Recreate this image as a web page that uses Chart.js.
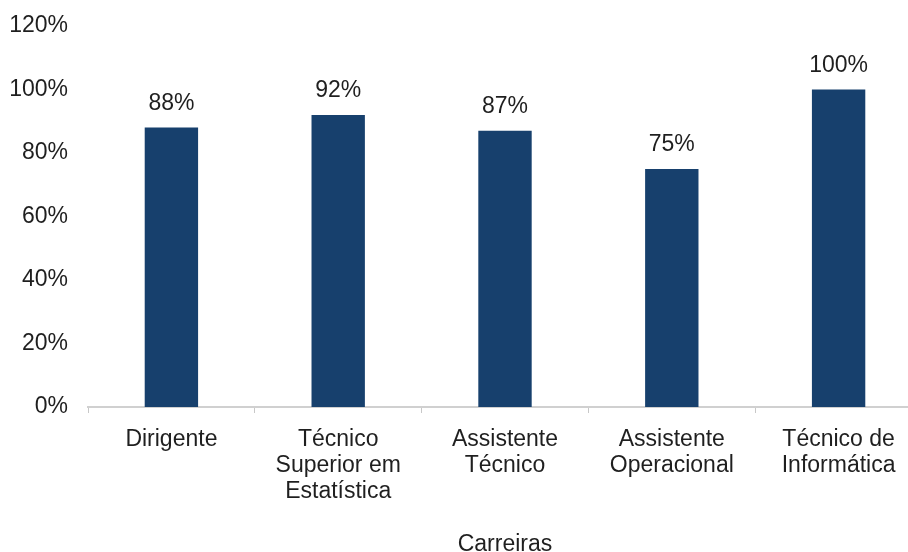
<!DOCTYPE html>
<html>
<head>
<meta charset="utf-8">
<script src="https://cdn.jsdelivr.net/npm/chart.js@4"></script>
<style>
  html, body { margin: 0; padding: 0; background: #fff; overflow: hidden; }
  #wrap { width: 922px; height: 552px; }
</style>
</head>
<body>
<div id="wrap"><canvas id="chart"></canvas></div>
<script>
const categories = [
  "Dirigente",
  ["Técnico", "Superior em", "Estatística"],
  ["Assistente", "Técnico"],
  ["Assistente", "Operacional"],
  ["Técnico de", "Informática"]
];
const values = [88, 92, 87, 75, 100];
const axisTitle = "Carreiras";

const FONT = "'Liberation Sans', Arial, sans-serif";
const TEXT = "#1f1f1f";

// simple value labels above each bar
const barLabels = {
  id: "barLabels",
  afterDatasetsDraw(chart) {
    const ctx = chart.ctx;
    const meta = chart.getDatasetMeta(0);
    ctx.save();
    ctx.font = "23px " + FONT;
    ctx.fillStyle = TEXT;
    ctx.textAlign = "center";
    ctx.textBaseline = "middle";
    meta.data.forEach((bar, i) => {
      ctx.fillText(values[i] + "%", bar.x, bar.y - 24);
    });
    ctx.restore();
  }
};

new Chart(document.getElementById("chart"), {
  type: "bar",
  data: {
    labels: categories,
    datasets: [{
      data: values,
      backgroundColor: "#17406d",
      barPercentage: 0.32,
      categoryPercentage: 1
    }]
  },
  options: {
    responsive: true,
    maintainAspectRatio: false,
    animation: false,
    layout: { padding: { top: 0, left: 8, right: 0, bottom: -4 } },
    plugins: { legend: { display: false }, tooltip: { enabled: false } },
    scales: {
      x: {
        grid: {
          offset: true,
          drawOnChartArea: false,
          drawTicks: true,
          tickLength: 6,
          color: "#c8c8c8"
        },
        border: { display: true, color: "#d0d0d0", width: 2 },
        ticks: {
          color: TEXT,
          font: { family: FONT, size: 23, lineHeight: 1.13 },
          padding: 14,
          maxRotation: 0,
          autoSkip: false
        },
        title: {
          display: true,
          text: axisTitle,
          color: TEXT,
          font: { family: FONT, size: 23, lineHeight: 1 },
          padding: { top: 14, bottom: 0 }
        }
      },
      y: {
        min: 0,
        max: 120,
        grid: { display: false, drawTicks: false },
        border: { display: false },
        afterFit: (scale) => {
          scale.width = 80;
          scale.paddingTop = 26;
        },
        ticks: {
          stepSize: 20,
          color: TEXT,
          font: { family: FONT, size: 23 },
          padding: 20,
          callback: (v) => v + "%"
        }
      }
    }
  },
  plugins: [barLabels]
});
</script>
</body>
</html>
